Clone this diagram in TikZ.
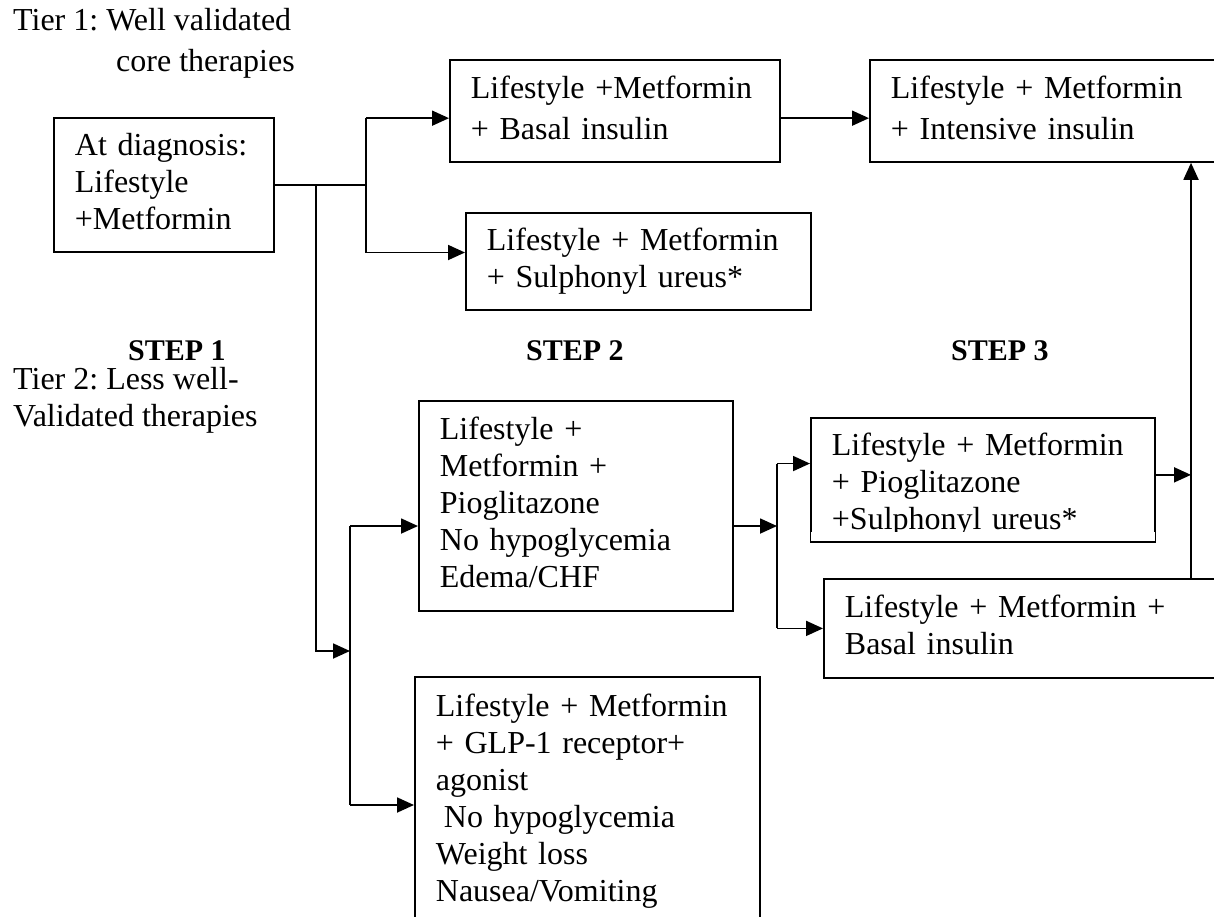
\documentclass[tikz,border=0pt]{standalone}
\usepackage{fontspec}
\setmainfont{Liberation Serif}
\usetikzlibrary{arrows.meta,calc}
\newcommand\myline[1]{\mbox{\strut #1}}
\frenchspacing
\begin{document}
\begin{tikzpicture}[x=1pt,y=-1pt,
  box/.style={draw, line width=1.8pt, rectangle, anchor=north west, inner xsep=21pt, inner ysep=0pt, align=left, font=\fontsize{32}{37}\selectfont},
  wide/.style={font=\fontsize{32}{41}\selectfont},
  lbl/.style={anchor=base west, inner sep=0pt, font=\fontsize{32}{37}\selectfont},
  steplbl/.style={anchor=base west, inner sep=0pt, font=\fontsize{30}{36}\selectfont\bfseries},
  conn/.style={line width=1.8pt},
  arr/.style={conn, -{Triangle[length=17pt,width=15pt]}}]
\useasboundingbox (0,0) rectangle (1214,917);

% labels
\node[lbl] (t1a) at (13,31) {Tier 1: Well validated};
\node[lbl] (t1b) at (116,72) {core therapies};
\node[steplbl] (s1) at (128,360) {STEP 1};
\node[steplbl] (s2) at (526,360) {STEP 2};
\node[steplbl] (s3) at (951,360) {STEP 3};
\node[lbl] (t2a) at (13,389) {Tier 2: Less well-};
\node[lbl] (t2b) at (13,426) {Validated therapies};

% boxes
\node[box, text width=178pt, minimum height=134pt] (A) at (53,117)
  {\myline{At diagnosis:}\\\myline{Lifestyle}\\\myline{+Metformin}};
\node[box, wide, text width=288pt, minimum height=102pt] (B) at (449,59)
  {\myline{Lifestyle +Metformin}\\\myline{+ Basal insulin}};
\node[box, text width=303pt, minimum height=97pt] (C) at (465,212)
  {\myline{Lifestyle + Metformin}\\\myline{+ Sulphonyl ureus*}};
\node[box, wide, text width=329pt, minimum height=102pt] (D) at (869,59)
  {\myline{Lifestyle + Metformin}\\\myline{+ Intensive insulin}};
\node[box, text width=272pt, minimum height=210pt] (E) at (418,400)
  {\myline{Lifestyle +}\\\myline{Metformin +}\\\myline{Pioglitazone}\\\myline{No hypoglycemia}\\\myline{Edema/CHF}};
\node[box, text width=302pt, minimum height=124pt] (F) at (810,417)
  {\myline{\rule{0pt}{35.9pt}Lifestyle + Metformin}\\\myline{+ Pioglitazone}\\\myline{+Sulphonyl ureus*}};
\fill[white] ($(F.south west)+(1.2,-1.8)$) rectangle ($(F.south east)+(-1.2,-11)$);
\node[box, text width=375pt, minimum height=99pt] (H) at (823,578)
  {\myline{Lifestyle + Metformin +}\\\myline{Basal insulin}};
\node[box, text width=303pt, minimum height=250pt] (G) at (414,676)
  {\myline{Lifestyle + Metformin}\\\myline{+ GLP-1 receptor+}\\\myline{agonist}\\\myline{\hspace{8pt}No hypoglycemia}\\\myline{Weight loss}\\\myline{Nausea/Vomiting}};

% step 1 -> tier 1
\coordinate (bIn) at ($(B.north west)!0.57!(B.south west)$);
\coordinate (cIn) at ($(C.north west)!0.41!(C.south west)$);
\coordinate (jA) at ($(A.east)+(91,0)$);
\coordinate (jB) at ($(A.east)+(41,0)$);
\draw[conn] (A.east) -- (jA);
\draw[conn] (jA |- bIn) -- (jA |- cIn);
\draw[arr] (jA |- bIn) -- (bIn);
\draw[arr] (jA |- cIn) -- (cIn);
\draw[arr] (bIn -| B.east) -- (bIn -| D.west);

% step 1 -> tier 2
\coordinate (vx) at (350,651);
\coordinate (eIn) at ($(E.north west)!0.595!(E.south west)$);
\coordinate (gIn) at ($(G.north west)+(0,129)$);
\draw[arr] (jB) -- (jB |- vx) -- (vx);
\draw[conn] (vx |- eIn) -- (vx |- gIn);
\draw[arr] (vx |- eIn) -- (eIn);
\draw[arr] (vx |- gIn) -- (gIn);

% step 2 -> step 3
\coordinate (eOut) at ($(E.north east)!0.595!(E.south east)$);
\coordinate (wx) at (777,0);
\coordinate (fIn) at ($(F.north west)!0.37!(F.south west)$);
\draw[arr] (eOut) -- (eOut -| wx);
\draw[conn] (wx |- fIn) -- (wx |- H.west);
\draw[arr] (wx |- fIn) -- (fIn);
\draw[arr] (wx |- H.west) -- (H.west);

% step 3 -> intensive insulin
\coordinate (up) at (1191,0);
\coordinate (fOut) at ($(F.north east)!0.46!(F.south east)$);
\draw[arr] (fOut) -- (fOut -| up);
\draw[arr] (up |- H.north) -- (up |- D.south);
\end{tikzpicture}
\end{document}
